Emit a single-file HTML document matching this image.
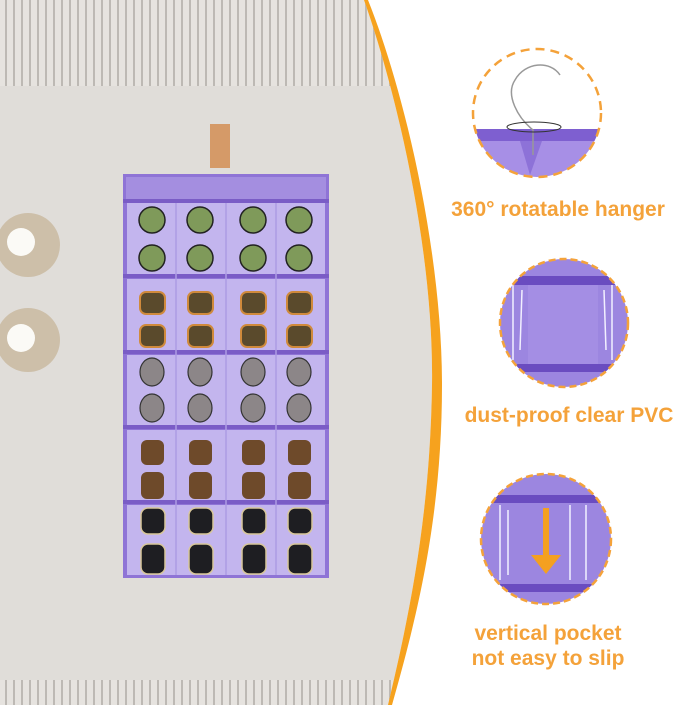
<!DOCTYPE html>
<html><head><meta charset="utf-8"><style>
html,body{margin:0;padding:0;width:679px;height:705px;overflow:hidden;background:#fff}
svg{display:block}
text{font-family:"Liberation Sans",sans-serif;font-weight:bold;fill:#f4a23a}
</style></head><body>
<svg width="679" height="705" viewBox="0 0 679 705" xmlns="http://www.w3.org/2000/svg">
<defs>
<pattern id="st" width="8" height="10" patternUnits="userSpaceOnUse">
<rect width="8" height="10" fill="#e6e3df"/><rect x="5" width="2" height="10" fill="#bdb9b4"/>
</pattern>
<clipPath id="left"><path d="M0,0 L364,0 C396,90 434,250 432,385 C430,520 408,620 388,705 L0,705 Z"/></clipPath>
<clipPath id="c1"><circle cx="537" cy="113" r="64"/></clipPath>
<clipPath id="c2"><circle cx="564" cy="323" r="64"/></clipPath>
<clipPath id="c3"><circle cx="546" cy="539" r="65"/></clipPath>
</defs>
<g clip-path="url(#left)">
<rect width="679" height="705" fill="#e0ddd9"/>
<rect width="679" height="86" fill="url(#st)"/>
<rect y="680" width="679" height="25" fill="url(#st)"/>
<circle cx="28" cy="245" r="32" fill="#cdbfa9"/><circle cx="21" cy="242" r="14" fill="#fbfaf6"/>
<circle cx="28" cy="340" r="32" fill="#cdbfa9"/><circle cx="21" cy="338" r="14" fill="#fbfaf6"/>
<rect x="210" y="124" width="20" height="44" fill="#d59a68"/>
<rect x="123" y="174" width="206" height="404" fill="#8f74d6"/>
<rect x="126" y="177" width="200" height="22" fill="#a48ee0"/>
<g fill="#c3b5ee">
<rect x="127" y="203" width="198" height="71"/><rect x="127" y="279" width="198" height="71"/>
<rect x="127" y="355" width="198" height="70"/><rect x="127" y="430" width="198" height="70"/>
<rect x="127" y="505" width="198" height="70"/>
</g>
<g fill="#7a5cc6"><rect x="123" y="199" width="206" height="4"/><rect x="123" y="274" width="206" height="4"/><rect x="123" y="350" width="206" height="4"/><rect x="123" y="425" width="206" height="4"/><rect x="123" y="500" width="206" height="4"/></g>
<g stroke="#ad9be4" stroke-width="1.5"><line x1="176" y1="203" x2="176" y2="575"/><line x1="226" y1="203" x2="226" y2="575"/><line x1="276" y1="203" x2="276" y2="575"/></g>
<g>
<g fill="#7f9a5a" stroke="#222" stroke-width="1.5">
<circle cx="152" cy="220" r="13"/><circle cx="200" cy="220" r="13"/><circle cx="253" cy="220" r="13"/><circle cx="299" cy="220" r="13"/>
<circle cx="152" cy="258" r="13"/><circle cx="200" cy="258" r="13"/><circle cx="253" cy="258" r="13"/><circle cx="299" cy="258" r="13"/>
</g>
<g fill="#5a4a2c" stroke="#d08a3c" stroke-width="2">
<rect x="140" y="292" width="25" height="22" rx="6"/><rect x="188" y="292" width="25" height="22" rx="6"/><rect x="241" y="292" width="25" height="22" rx="6"/><rect x="287" y="292" width="25" height="22" rx="6"/>
<rect x="140" y="325" width="25" height="22" rx="6"/><rect x="188" y="325" width="25" height="22" rx="6"/><rect x="241" y="325" width="25" height="22" rx="6"/><rect x="287" y="325" width="25" height="22" rx="6"/>
</g>
<g fill="#8c8688" stroke="#333" stroke-width="1.2">
<ellipse cx="152" cy="372" rx="12" ry="14"/><ellipse cx="200" cy="372" rx="12" ry="14"/><ellipse cx="253" cy="372" rx="12" ry="14"/><ellipse cx="299" cy="372" rx="12" ry="14"/>
<ellipse cx="152" cy="408" rx="12" ry="14"/><ellipse cx="200" cy="408" rx="12" ry="14"/><ellipse cx="253" cy="408" rx="12" ry="14"/><ellipse cx="299" cy="408" rx="12" ry="14"/>
</g>
<g fill="#6e4a2a">
<rect x="141" y="440" width="23" height="25" rx="6"/><rect x="189" y="440" width="23" height="25" rx="6"/><rect x="242" y="440" width="23" height="25" rx="6"/><rect x="288" y="440" width="23" height="25" rx="6"/>
<rect x="141" y="472" width="23" height="27" rx="6"/><rect x="189" y="472" width="23" height="27" rx="6"/><rect x="242" y="472" width="23" height="27" rx="6"/><rect x="288" y="472" width="23" height="27" rx="6"/>
</g>
<g fill="#1e1e22" stroke="#d8c79a" stroke-width="1.5">
<rect x="141" y="508" width="24" height="26" rx="7"/><rect x="189" y="508" width="24" height="26" rx="7"/><rect x="242" y="508" width="24" height="26" rx="7"/><rect x="288" y="508" width="24" height="26" rx="7"/>
<rect x="141" y="544" width="24" height="30" rx="7"/><rect x="189" y="544" width="24" height="30" rx="7"/><rect x="242" y="544" width="24" height="30" rx="7"/><rect x="288" y="544" width="24" height="30" rx="7"/>
</g>
</g>
</g>
<path d="M364,0 C396,90 434,250 432,385 C430,520 408,620 388,705 L392,705 C416,620 442,520 442,385 C442,250 404,90 368,0 Z" fill="#f6a21e"/>
<!-- circle 1 -->
<g clip-path="url(#c1)">
<rect x="470" y="40" width="140" height="150" fill="#fff"/>
<rect x="470" y="129" width="140" height="12" fill="#7e5fd0"/>
<rect x="470" y="141" width="140" height="40" fill="#a78fe6"/>
<path d="M520,141 L530,175 L542,141 Z" fill="#8d72d8"/>
<path d="M533,155 L533,130 C518,118 505,95 515,80 C525,62 550,60 560,75" fill="none" stroke="#999" stroke-width="1.5"/>
<ellipse cx="534" cy="127" rx="27" ry="5" fill="none" stroke="#333" stroke-width="1"/>
</g>
<circle cx="537" cy="113" r="64" fill="none" stroke="#f4a23a" stroke-width="2.5" stroke-dasharray="9 6"/>
<text x="558" y="216" font-size="21" text-anchor="middle">360° rotatable hanger</text>
<!-- circle 2 -->
<g clip-path="url(#c2)">
<rect x="495" y="255" width="140" height="140" fill="#9c86e0"/>
<rect x="495" y="276" width="140" height="9" fill="#6a4cc0"/>
<rect x="495" y="364" width="140" height="8" fill="#6a4cc0"/>
<rect x="528" y="285" width="70" height="79" fill="#a48ee4"/>
<g stroke="#f2f0ff" stroke-width="1.5"><line x1="513" y1="285" x2="513" y2="360"/><line x1="522" y1="290" x2="520" y2="350"/><line x1="604" y1="290" x2="606" y2="350"/><line x1="612" y1="285" x2="612" y2="360"/></g>
</g>
<circle cx="564" cy="323" r="64" fill="none" stroke="#f4a23a" stroke-width="2.5" stroke-dasharray="7 4"/>
<text x="569" y="422" font-size="21" text-anchor="middle">dust-proof clear PVC</text>
<!-- circle 3 -->
<g clip-path="url(#c3)">
<rect x="478" y="470" width="140" height="140" fill="#9c86e0"/>
<rect x="478" y="495" width="140" height="8" fill="#6a4cc0"/>
<rect x="478" y="584" width="140" height="8" fill="#6a4cc0"/>
<g stroke="#f2f0ff" stroke-width="1.5"><line x1="500" y1="505" x2="500" y2="580"/><line x1="508" y1="510" x2="508" y2="575"/><line x1="570" y1="505" x2="570" y2="580"/><line x1="586" y1="505" x2="586" y2="580"/></g>
<path d="M543,508 L549,508 L549,555 L561,555 L546,574 L531,555 L543,555 Z" fill="#f4a020"/>
</g>
<circle cx="546" cy="539" r="65" fill="none" stroke="#f4a23a" stroke-width="2.5" stroke-dasharray="7 4"/>
<text x="548" y="640" font-size="21" text-anchor="middle">vertical pocket</text>
<text x="548" y="665" font-size="21" text-anchor="middle">not easy to slip</text>
</svg>
</body></html>
